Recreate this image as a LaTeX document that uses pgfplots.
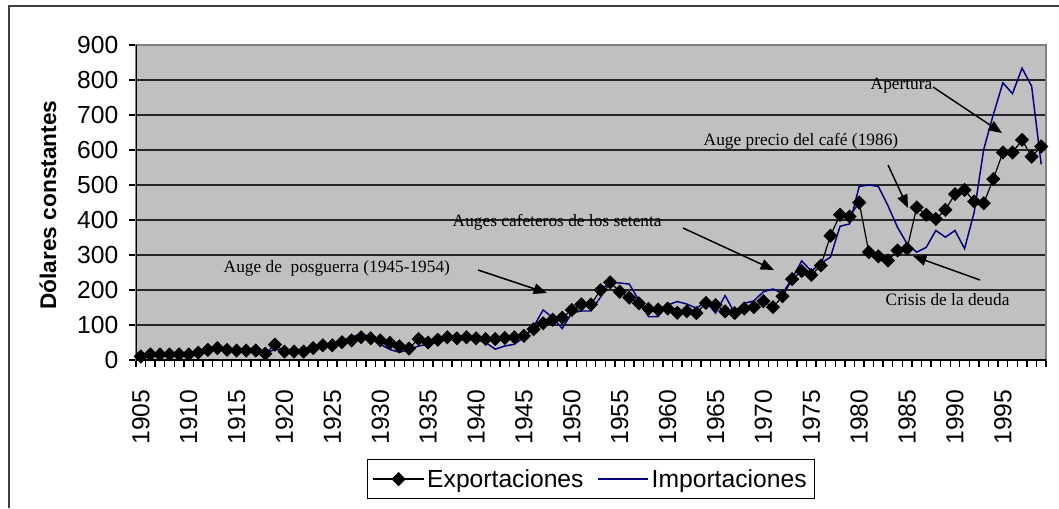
\documentclass[border=0pt]{standalone}
\usepackage{fontspec}
\setmainfont{Liberation Sans}
\newfontfamily\tnr{Liberation Serif}
\usepackage{pgfplots}
\pgfplotsset{compat=1.18}
\usetikzlibrary{arrows.meta}
\definecolor{plotgray}{RGB}{192,192,192}
\definecolor{bordergray}{RGB}{128,128,128}
\definecolor{impblue}{RGB}{0,0,128}

\pgfplotstableread{
year exp imp
1905 10 8
1906 16 12
1907 16 14
1908 16 14
1909 16 15
1910 16 15
1911 21 20
1912 29 25
1913 34 30
1914 29 25
1915 27 25
1916 27 24
1917 27 24
1918 18 20
1919 44 30
1920 24 28
1921 24 24
1922 24 26
1923 34 32
1924 42 40
1925 42 45
1926 51 55
1927 56 65
1928 65 75
1929 62 65
1930 56 45
1931 49 30
1932 39 22
1933 33 30
1934 60 40
1935 50 45
1936 58 52
1937 65 58
1938 62 60
1939 65 60
1940 62 58
1941 60 50
1942 60 31
1943 63 40
1944 65 45
1945 69 65
1946 88 95
1947 105 143
1948 115 121
1949 121 90
1950 143 135
1951 159 140
1952 159 140
1953 200 180
1954 222 222
1955 195 220
1956 178 217
1957 162 170
1958 146 124
1959 144 124
1960 147 157
1961 135 167
1962 139 160
1963 134 148
1964 163 167
1965 157 134
1966 139 184
1967 134 134
1968 147 162
1969 151 169
1970 168 195
1971 151 203
1972 182 190
1973 231 233
1974 254 283
1975 243 254
1976 270 276
1977 355 294
1978 415 382
1979 410 389
1980 450 496
1981 308 500
1982 296 496
1983 284 441
1984 313 379
1985 318 332
1986 436 308
1987 415 322
1988 403 370
1989 429 351
1990 474 370
1991 486 318
1992 453 422
1993 448 602
1994 517 701
1995 593 792
1996 593 761
1997 629 834
1998 581 782
1999 610 559
}\datatable

\begin{document}
\begin{tikzpicture}
\useasboundingbox (0,0) rectangle (794.25pt,381pt);
\begin{axis}[
  at={(102pt,111pt)}, anchor=south west,
  scale only axis, width=682.5pt, height=236.25pt,
  xmin=1904.5, xmax=1999.5, ymin=0, ymax=900,
  ytick={0,100,...,900},
  xtick={1904.5,1905.5,...,1999.5},
  xticklabels={},
  extra x ticks={1905,1910,...,1995},
  extra x tick labels={1905,1910,1915,1920,1925,1930,1935,1940,1945,1950,1955,1960,1965,1970,1975,1980,1985,1990,1995},
  extra x tick style={major tick length=0pt, grid=none},
  tick pos=left,
  major tick length=5pt,
  tick align=outside,
  major tick style={black, line width=1pt},
  ymajorgrids,
  major grid style={black!85, line width=0.8pt},
  axis background/.style={fill=plotgray},
  axis line style={draw=bordergray, line width=1.6pt},
  /pgf/number format/assume math mode=true,
  /pgf/number format/1000 sep={},
  ticklabel style={font=\fontsize{18.5}{21}\selectfont},
  yticklabel style={inner sep=0pt},
  yticklabel shift=8pt,
  xticklabel style={inner sep=0pt, rotate=90, anchor=east},
  xticklabel shift=22pt,
  ylabel={\bfseries Dólares constantes},
  ylabel style={at={(axis description cs:-0.0967,0.492)}, anchor=center, font=\fontsize{17}{20}\selectfont},
  legend columns=2,
  legend style={at={(0.5,-0.378)}, anchor=center, draw=black, fill=white, line width=0.6pt,
    font=\fontsize{18.5}{21}\selectfont, inner xsep=4pt, inner ysep=5pt,
    /tikz/every even column/.append style={column sep=8pt}},
  legend image code/.code={\draw[mark repeat=2,mark phase=2,#1] plot coordinates {(0pt,0pt) (19pt,0pt) (38pt,0pt)};},
]
\addplot[black, line width=0.9pt, mark=square*, mark size=3.3pt, mark options={rotate=45, solid, fill=black}] table[x=year, y=exp] {\datatable};
\addlegendentry{Exportaciones}
\addplot[impblue, line width=1.1pt, no markers] table[x=year, y=imp] {\datatable};
\addlegendentry{Importaciones}
\draw[black, line width=1pt] (rel axis cs:0,1) -- (rel axis cs:0,0) -- (rel axis cs:1,0);
\end{axis}
\begin{scope}[x=0.75pt,y=-0.75pt,shift={(0pt,381pt)}]
\draw[black!75, line width=1.5pt] (8.5,508) -- (8.5,6) -- (1059,6);
\begin{scope}[font=\tnr\fontsize{13}{15}\selectfont, line width=1.1pt, -{Triangle[length=10pt,width=8pt]}]
\node[anchor=west, inner sep=0pt] at (223,268) {Auge de\ \ posguerra (1945-1954)};
\draw (478,270) -- (547,293);
\node[anchor=west, inner sep=0pt] at (452,222) {Auges cafeteros de los setenta};
\draw (683,228) -- (774,270);
\node[anchor=west, inner sep=0pt] at (703,141) {Auge precio del café (1986)};
\draw (888,165) -- (908,208);
\node[anchor=west, inner sep=0pt] at (870,86) {Apertura};
\draw (933,87) -- (1002,133);
\node[anchor=west, inner sep=0pt] at (885,300) {Crisis de la deuda};
\draw (980,280) -- (913,256);
\end{scope}
\end{scope}
\end{tikzpicture}
\end{document}
